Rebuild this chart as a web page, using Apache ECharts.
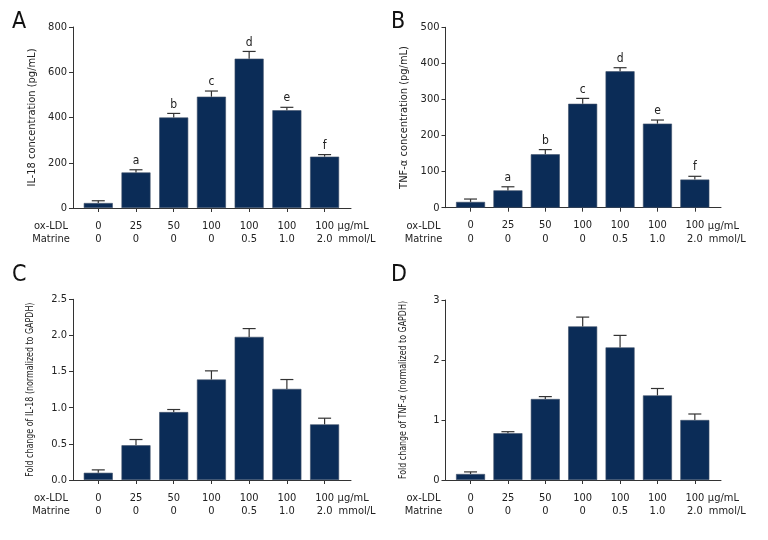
<!DOCTYPE html>
<html>
<head>
<meta charset="utf-8">
<script src="https://cdn.jsdelivr.net/npm/echarts@6/dist/echarts.min.js"></script>
<style>
  html, body { margin: 0; padding: 0; background: #fff; }
  #chart { width: 768px; height: 540px; }
</style>
</head>
<body>
<div id="chart"></div>
<script>
const oxLDL = ["0", "25", "50", "100", "100", "100", "100"];
const matrine = ["0", "0", "0", "0", "0.5", "1.0", "2.0"];

const il18Conc = [22, 157, 400, 492, 660, 432, 227];
const il18ConcErr = [10, 12, 18, 25, 32, 13, 9];
const tnfConc = [16, 48, 148, 288, 378, 233, 78];
const tnfConcErr = [8, 10, 13, 15, 10, 10, 9];
const il18Fold = [0.10, 0.48, 0.94, 1.39, 1.98, 1.26, 0.77];
const il18FoldErr = [0.04, 0.08, 0.035, 0.12, 0.115, 0.13, 0.085];
const tnfFold = [0.10, 0.78, 1.35, 2.56, 2.21, 1.41, 1.00];
const tnfFoldErr = [0.035, 0.025, 0.04, 0.155, 0.2, 0.115, 0.1];

const letters = ["", "a", "b", "c", "d", "e", "f"];
const noLetters = ["", "", "", "", "", "", ""];

const font = '"DejaVu Sans Condensed", "Liberation Sans", sans-serif';
const ink = "#222";
const barColor = "#0b2c57";

const panels = [
  { tag: "A", tagX: 12, tagY: 11, left: 73, top: 27, width: 278, height: 181, max: 800, interval: 200, dec: 0,
    name: "IL-18 concentration (pg/mL)", nameX: 32, nameScale: 1,
    values: il18Conc, errs: il18ConcErr, marks: letters },
  { tag: "B", tagX: 391, tagY: 11, left: 445.5, top: 27.3, width: 275.5, height: 180.4, max: 500, interval: 100, dec: 0,
    name: "TNF-α concentration (pg/mL)", nameX: 404, nameScale: 1,
    values: tnfConc, errs: tnfConcErr, marks: letters },
  { tag: "C", tagX: 12, tagY: 264, left: 73, top: 299.3, width: 278, height: 180.7, max: 2.5, interval: 0.5, dec: 1,
    name: "Fold change of IL-18 (normalized to GAPDH)", nameX: 30, nameScale: 0.8,
    values: il18Fold, errs: il18FoldErr, marks: noLetters },
  { tag: "D", tagX: 391, tagY: 264, left: 445.5, top: 300, width: 275.5, height: 180, max: 3, interval: 1, dec: 0,
    name: "Fold change of TNF-α (normalized to GAPDH)", nameX: 403, nameScale: 0.8,
    values: tnfFold, errs: tnfFoldErr, marks: noLetters }
];

const xMin = -0.67, xMax = 6.7;
const idx = [0, 1, 2, 3, 4, 5, 6];

const grid = [], xAxis = [], yAxis = [], series = [], graphic = [];

panels.forEach((p, i) => {
  grid.push({ left: p.left, top: p.top, width: p.width, height: p.height });
  xAxis.push({
    type: "value", gridIndex: i, min: xMin, max: xMax,
    splitLine: { show: false },
    axisLine: { onZero: false, lineStyle: { color: "#333", width: 1 } },
    axisTick: { customValues: idx, length: 4, lineStyle: { color: "#333" } },
    axisLabel: {
      customValues: idx, margin: 11, color: ink, fontFamily: font, fontSize: 11, lineHeight: 13.5,
      formatter: (v) => oxLDL[Math.round(v)] + "\n" + matrine[Math.round(v)]
    }
  });
  yAxis.push({
    type: "value", gridIndex: i, min: 0, max: p.max, interval: p.interval,
    splitLine: { show: false },
    axisLine: { show: true, onZero: false, lineStyle: { color: "#333", width: 1 } },
    axisTick: { show: true, length: 4, lineStyle: { color: "#333" } },
    axisLabel: { margin: 6, color: ink, fontFamily: font, fontSize: 11,
      formatter: (v) => v.toFixed(p.dec) }
  });
  series.push({
    type: "bar", xAxisIndex: i, yAxisIndex: i, barWidth: 29,
    itemStyle: { color: barColor, borderColor: "#3f5069", borderWidth: 0.6 },
    data: p.values.map((v, k) => [k, v]),
    z: 2
  });
  series.push({
    type: "custom", xAxisIndex: i, yAxisIndex: i, z: 3,
    data: p.values.map((v, k) => [k, v, p.errs[k], k]),
    renderItem: (params, api) => {
      const x = api.value(0), y = api.value(1), e = api.value(2);
      const base = api.coord([x, y]);
      const cap = api.coord([x, y + e]);
      const mark = p.marks[api.value(3)];
      const children = [
        { type: "line", shape: { x1: base[0], y1: base[1], x2: cap[0], y2: cap[1] },
          style: { stroke: "#333", lineWidth: 1.2 } },
        { type: "line", shape: { x1: cap[0] - 6.5, y1: cap[1], x2: cap[0] + 6.5, y2: cap[1] },
          style: { stroke: "#333", lineWidth: 1.2 } }
      ];
      if (mark) {
        children.push({ type: "text", x: cap[0], y: cap[1] - 3,
          style: { text: mark, fill: ink, font: "12px " + font, textAlign: "center", textVerticalAlign: "bottom" } });
      }
      return { type: "group", children: children };
    }
  });

  const axisY = p.top + p.height;
  const unit = p.width / (xMax - xMin);
  const lastTick = p.left + (6 - xMin) * unit;
  const rowText = (txt, x, y, align) => ({
    type: "text", x: x, y: y,
    style: { text: txt, fill: ink, font: "11px " + font, textAlign: align, textVerticalAlign: "middle" }
  });
  graphic.push(rowText("ox-LDL", p.left - 22, axisY + 18, "center"));
  graphic.push(rowText("Matrine", p.left - 22, axisY + 31.5, "center"));
  graphic.push(rowText("μg/mL", lastTick + 13, axisY + 18, "left"));
  graphic.push(rowText("mmol/L", lastTick + 14, axisY + 31.5, "left"));
  // y-axis title, condensed for the long fold-change labels
  graphic.push({
    type: "text", x: p.nameX, y: p.top + p.height / 2, rotation: Math.PI / 2, scaleX: p.nameScale,
    style: { text: p.name, fill: ink, font: "11px " + font, textAlign: "center", textVerticalAlign: "middle" }
  });
  graphic.push({
    type: "text", x: p.tagX, y: p.tagY,
    style: { text: p.tag, fill: "#111", font: "23px " + font }
  });
});

const chart = echarts.init(document.getElementById("chart"));
chart.setOption({
  animation: false,
  backgroundColor: "#fff",
  grid: grid,
  xAxis: xAxis,
  yAxis: yAxis,
  series: series,
  graphic: graphic
});
</script>
</body>
</html>
